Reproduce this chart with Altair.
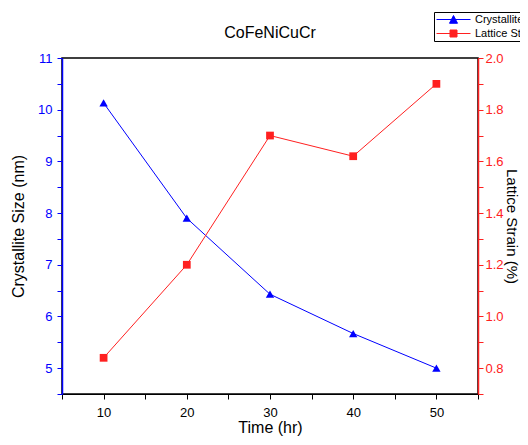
import altair as alt
import pandas as pd

time_hr = [10, 20, 30, 40, 50]
crystallite_size = [10.13, 7.9, 6.43, 5.67, 5.0]
lattice_strain = [0.84, 1.2, 1.70, 1.62, 1.90]
series_names = ["Crystallite Size", "Lattice Strain"]

BLUE = "#0000ff"
RED = "#ff2020"
FONT = "Liberation Sans"

df1 = pd.DataFrame({"t": time_hr, "v": crystallite_size, "s": series_names[0]})
df2 = pd.DataFrame({"t": time_hr, "v": lattice_strain, "s": series_names[1]})

x = alt.X("t:Q", scale=alt.Scale(domain=[5, 55], nice=False, zero=False),
          axis=alt.Axis(title="Time (hr)", values=list(range(5, 56, 5)),
                        labelExpr="datum.value % 10 == 0 && datum.value > 5 && datum.value < 55 ? datum.label : ''",
                        grid=False, domainColor="black", tickColor="black",
                        labelColor="black", labelFontSize=13, titleFontSize=16,
                        titleFontWeight="normal", labelFont=FONT, titleFont=FONT,
                        tickSize=5, labelPadding=7, titlePadding=0, titleColor="black"))

y_left = alt.Y("v:Q", scale=alt.Scale(domain=[4.5, 11], nice=False, zero=False),
               axis=alt.Axis(title="Crystallite Size (nm)",
                             values=[4.5, 5, 5.5, 6, 6.5, 7, 7.5, 8, 8.5, 9, 9.5, 10, 10.5, 11],
                             labelExpr="datum.value % 1 == 0 ? format(datum.value, 'd') : ''",
                             grid=False, domainColor=BLUE, tickColor=BLUE, labelColor=BLUE,
                             labelFontSize=13, titleFontSize=16, titleFontWeight="normal",
                             labelFont=FONT, titleFont=FONT, titleColor="black",
                             tickSize=5, labelPadding=5, titlePadding=11, domainWidth=1.5))

y_right = alt.Y("v:Q", scale=alt.Scale(domain=[0.7, 2.0], nice=False, zero=False),
                axis=alt.Axis(title="Lattice Strain (%)", orient="right",
                              values=[0.7, 0.8, 0.9, 1.0, 1.1, 1.2, 1.3, 1.4, 1.5, 1.6, 1.7, 1.8, 1.9, 2.0],
                              labelExpr="round(datum.value * 10) % 2 == 0 ? format(datum.value, '.1f') : ''",
                              grid=False, domainColor=RED, tickColor=RED, labelColor=RED,
                              labelFontSize=13, titleFontSize=15, titleFontWeight="normal",
                              labelFont=FONT, titleFont=FONT, titleColor="black",
                              tickSize=5, labelPadding=2, titlePadding=0, domainWidth=1.5))

l1_line = alt.Chart(df1).mark_line(color=BLUE, strokeWidth=1).encode(x=x, y=y_left)
l1_pts = alt.Chart(df1).mark_point(filled=True, opacity=1, size=70, shape="triangle-up",
                                   color=BLUE).encode(x=x, y=y_left)
left = alt.layer(l1_line, l1_pts)

l2_line = alt.Chart(df2).mark_line(color=RED, strokeWidth=1).encode(x=x, y=y_right)
l2_pts = alt.Chart(df2).mark_point(filled=True, opacity=1, size=60, shape="square",
                                   color=RED).encode(x=x, y=y_right)
right = alt.layer(l2_line, l2_pts)

# legend-only layer (no marks drawn: data filtered out)
leg_paths = ["M-1,0H5.8M1.6,0.75L2.4,-0.8L3.2,0.75Z",
             "M-1,0H5.8M1.7,-0.7H3.1V0.7H1.7Z"]
legend_layer = alt.Chart(pd.concat([df1, df2])).mark_point(
    filled=True, opacity=1, size=100, strokeWidth=1).encode(
    x=x,
    fill=alt.Fill("s:N", scale=alt.Scale(domain=series_names, range=[BLUE, RED]),
                  legend=alt.Legend(title=None, orient="none", legendX=372, legendY=-46,
                                    strokeColor="black", padding=2, labelFontSize=11,
                                    labelFont=FONT, labelColor="black", rowPadding=1,
                                    labelOffset=28, fillColor="white", cornerRadius=0,
                                    symbolStrokeWidth=1)),
    stroke=alt.Stroke("s:N", scale=alt.Scale(domain=series_names, range=[BLUE, RED]),
                      legend=alt.Legend(title=None, orient="none", legendX=372, legendY=-46)),
    shape=alt.Shape("s:N", scale=alt.Scale(domain=series_names, range=leg_paths),
                    legend=alt.Legend(title=None, orient="none", legendX=372, legendY=-46)),
).transform_filter("datum.t < 0")

chart = alt.layer(left, right, legend_layer).resolve_scale(y="independent").properties(
    width=416, height=336,
    title=alt.Title("CoFeNiCuCr", fontSize=16, fontWeight="normal", font=FONT,
                    color="black", offset=-29),
    autosize=alt.AutoSizeParams(type="none"),
    padding={"left": 54, "top": 50, "right": 42, "bottom": 43},
).configure_view(stroke="black", strokeWidth=1.5)

chart.save("out.html", embed_options={"renderer": "svg", "actions": False})
